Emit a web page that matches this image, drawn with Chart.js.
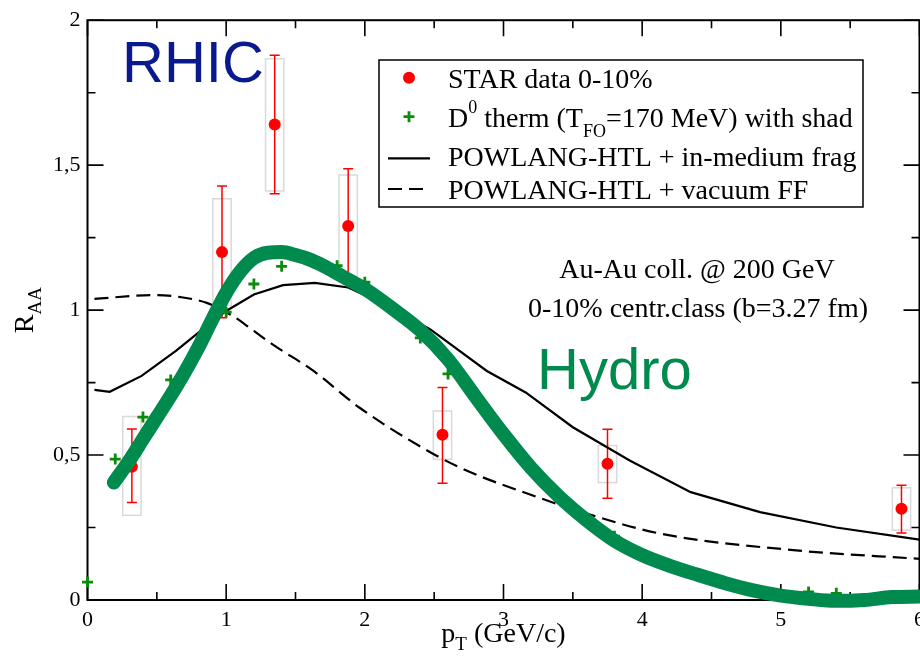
<!DOCTYPE html>
<html>
<head>
<meta charset="utf-8">
<script src="https://cdn.jsdelivr.net/npm/chart.js@4/dist/chart.umd.min.js"></script>
<style>
  html, body { margin: 0; padding: 0; background: #fff; overflow: hidden; }
  #wrap { width: 940px; height: 664px; }
</style>
</head>
<body>
<div id="wrap"><canvas id="raaChart" width="940" height="664"></canvas></div>
<script>
// STAR D0 data 0-10%
const starX  = [0.32, 0.97, 1.35, 1.88, 2.56, 3.75, 5.87];
const starY  = [0.46, 1.20, 1.64, 1.29, 0.57, 0.47, 0.315];
const statLo = [0.336, 0.974, 1.401, 1.09, 0.403, 0.351, 0.231];
const statHi = [0.59, 1.428, 1.879, 1.488, 0.733, 0.589, 0.396];
const sysLo  = [0.292, 1.016, 1.411, 1.112, 0.485, 0.405, 0.241];
const sysHi  = [0.633, 1.384, 1.867, 1.466, 0.652, 0.533, 0.387];

// D0 therm (T_FO = 170 MeV) with shad
const thermX = [0, 0.2, 0.4, 0.6, 0.8, 1.0, 1.2, 1.4, 1.8, 2.0, 2.4, 2.6, 3.2, 3.4, 3.6, 3.8, 5.2, 5.4];
const thermY = [0.062, 0.486, 0.631, 0.759, 0.882, 0.993, 1.09, 1.151, 1.153, 1.096, 0.904, 0.78, 0.447, 0.358, 0.278, 0.22, 0.028, 0.023];

// POWLANG-HTL + in-medium frag
const medX = [0.05, 0.16, 0.39, 0.64, 0.82, 1.0, 1.2, 1.41, 1.64, 1.88, 2.1, 2.47, 2.88, 3.16, 3.5, 3.91, 4.35, 4.85, 5.4, 6.0];
const medY = [0.725, 0.718, 0.773, 0.86, 0.93, 0.997, 1.054, 1.086, 1.094, 1.078, 1.03, 0.934, 0.79, 0.716, 0.596, 0.481, 0.372, 0.303, 0.25, 0.208];

// POWLANG-HTL + vacuum FF
const vacX = [0.05, 0.5, 0.67, 0.86, 1.05, 1.2, 1.34, 1.63, 1.96, 2.37, 2.68, 3.31, 3.6, 4.13, 5.09, 6.0];
const vacY = [1.039, 1.052, 1.045, 1.025, 0.979, 0.928, 0.88, 0.79, 0.664, 0.538, 0.458, 0.344, 0.298, 0.229, 0.172, 0.142];

// Hydro curve
const hydroX = [0.19, 0.3, 0.4, 0.5, 0.6, 0.7, 0.8, 0.9, 1.0, 1.1, 1.2, 1.3, 1.4, 1.5, 1.6, 1.7, 1.8, 1.9, 2.0, 2.2, 2.4, 2.6, 2.8, 3.0, 3.2, 3.4, 3.6, 3.8, 4.0, 4.2, 4.4, 4.6, 4.8, 5.0, 5.2, 5.4, 5.6, 5.8, 6.0];
const hydroY = [0.405, 0.48, 0.555, 0.63, 0.705, 0.785, 0.872, 0.968, 1.06, 1.132, 1.18, 1.198, 1.2, 1.19, 1.175, 1.153, 1.127, 1.1, 1.073, 1.005, 0.93, 0.83, 0.70, 0.572, 0.455, 0.357, 0.275, 0.205, 0.155, 0.118, 0.087, 0.058, 0.033, 0.015, 0.004, -0.003, 0.0, 0.01, 0.012];

const xTicks = [0, 1, 2, 3, 4, 5, 6];
const yTicks = [0, 0.5, 1, 1.5, 2];

const SERIF = '"Liberation Serif", "Times New Roman", serif';
const SANS = '"Liberation Sans", Arial, sans-serif';
const RED = "#ff0000";
const GREEN = "#0a8c0a";
const HYDRO = "#008a4e";

function pts(xs, ys) {
  return xs.map((x, i) => ({ x: x, y: ys[i] }));
}

// draws text pieces with sub/superscripts
function richText(ctx, parts, x, y) {
  parts.forEach(p => {
    ctx.font = p.size + "px " + SERIF;
    ctx.fillText(p.t, x, y + (p.dy || 0));
    x += ctx.measureText(p.t).width;
  });
  return x;
}
function richWidth(ctx, parts) {
  let w = 0;
  parts.forEach(p => { ctx.font = p.size + "px " + SERIF; w += ctx.measureText(p.t).width; });
  return w;
}

// frame, inward ticks, systematic boxes and error bars (under the datasets)
const underlay = {
  id: "underlay",
  beforeDatasetsDraw(chart) {
    const ctx = chart.ctx, a = chart.chartArea;
    const xs = chart.scales.x, ys = chart.scales.y;
    ctx.save();

    // systematic boxes
    ctx.strokeStyle = "#d9d9d9";
    ctx.lineWidth = 1.5;
    starX.forEach((x, i) => {
      const l = xs.getPixelForValue(x - 0.066), r = xs.getPixelForValue(x + 0.066);
      const t = ys.getPixelForValue(sysHi[i]), b = ys.getPixelForValue(sysLo[i]);
      ctx.strokeRect(l, t, r - l, b - t);
    });

    // stat error bars
    ctx.strokeStyle = RED;
    ctx.lineWidth = 1.5;
    starX.forEach((x, i) => {
      const px = xs.getPixelForValue(x);
      const t = ys.getPixelForValue(statHi[i]), b = ys.getPixelForValue(statLo[i]);
      ctx.beginPath();
      ctx.moveTo(px, t); ctx.lineTo(px, b);
      ctx.moveTo(px - 5, t); ctx.lineTo(px + 5, t);
      ctx.moveTo(px - 5, b); ctx.lineTo(px + 5, b);
      ctx.stroke();
    });

    // frame
    ctx.strokeStyle = "#000";
    ctx.lineWidth = 2;
    ctx.strokeRect(a.left, a.top, a.right - a.left, a.bottom - a.top);

    // inward ticks on all sides
    ctx.lineWidth = 1.6;
    ctx.beginPath();
    for (let v = 0; v <= 6.001; v += 0.5) {
      const px = xs.getPixelForValue(v);
      const len = Math.abs(v - Math.round(v)) < 1e-6 ? 16 : 8;
      ctx.moveTo(px, a.bottom); ctx.lineTo(px, a.bottom - len);
      ctx.moveTo(px, a.top); ctx.lineTo(px, a.top + len);
    }
    for (let v = 0; v <= 2.001; v += 0.25) {
      const py = ys.getPixelForValue(v);
      const len = Math.abs(v * 2 - Math.round(v * 2)) < 1e-6 ? 16 : 8;
      ctx.moveTo(a.left, py); ctx.lineTo(a.left + len, py);
      ctx.moveTo(a.right, py); ctx.lineTo(a.right - len, py);
    }
    ctx.stroke();
    ctx.restore();
  }
};

// legend, annotations and axis titles
const overlay = {
  id: "overlay",
  afterDraw(chart) {
    const ctx = chart.ctx, a = chart.chartArea;
    ctx.save();
    ctx.textBaseline = "alphabetic";

    // legend box
    ctx.fillStyle = "#fff";
    ctx.fillRect(379, 60, 484, 147);
    ctx.strokeStyle = "#000";
    ctx.lineWidth = 1.5;
    ctx.strokeRect(379, 60, 484, 147);

    ctx.fillStyle = RED;
    ctx.beginPath(); ctx.arc(409, 77.7, 6, 0, Math.PI * 2); ctx.fill();

    ctx.strokeStyle = GREEN;
    ctx.lineWidth = 2.8;
    ctx.beginPath();
    ctx.moveTo(403.5, 116.7); ctx.lineTo(414.5, 116.7);
    ctx.moveTo(409, 111.2); ctx.lineTo(409, 122.2);
    ctx.stroke();

    ctx.strokeStyle = "#000";
    ctx.lineWidth = 2.2;
    ctx.beginPath(); ctx.moveTo(388, 158.3); ctx.lineTo(430, 158.3); ctx.stroke();
    ctx.setLineDash([14, 7]);
    ctx.beginPath(); ctx.moveTo(388, 189); ctx.lineTo(430, 189); ctx.stroke();
    ctx.setLineDash([]);

    ctx.fillStyle = "#000";
    const lx = 448;
    richText(ctx, [{ t: "STAR data 0-10%", size: 28 }], lx, 87.5);
    richText(ctx, [
      { t: "D", size: 28 }, { t: "0", size: 18, dy: -14 },
      { t: " therm (T", size: 28 }, { t: "FO", size: 18, dy: 10 },
      { t: "=170 MeV) with shad", size: 28 }
    ], lx, 126.5);
    richText(ctx, [{ t: "POWLANG-HTL + in-medium frag", size: 28 }], lx, 166);
    richText(ctx, [{ t: "POWLANG-HTL + vacuum FF", size: 28 }], lx, 198.5);

    // collision info
    ctx.font = "28px " + SERIF;
    ctx.textAlign = "center";
    ctx.fillText("Au-Au coll. @ 200 GeV", 697, 278);
    ctx.fillText("0-10% centr.class (b=3.27 fm)", 698, 317);
    ctx.textAlign = "left";

    // big labels
    ctx.font = "58px " + SANS;
    ctx.fillStyle = "#0a1a8e";
    ctx.fillText("RHIC", 122, 82);
    ctx.fillStyle = HYDRO;
    ctx.fillText("Hydro", 537, 389);

    // x axis title
    ctx.fillStyle = "#000";
    const xt = [{ t: "p", size: 28 }, { t: "T", size: 19, dy: 8 }, { t: " (GeV/c)", size: 28 }];
    const cx = (a.left + a.right) / 2;
    richText(ctx, xt, cx - richWidth(ctx, xt) / 2, 642);

    // y axis title, rotated
    const yt = [{ t: "R", size: 28 }, { t: "AA", size: 19, dy: 8 }];
    ctx.translate(33, (a.top + a.bottom) / 2);
    ctx.rotate(-Math.PI / 2);
    richText(ctx, yt, -richWidth(ctx, yt) / 2, 0);
    ctx.restore();
  }
};

new Chart(document.getElementById("raaChart"), {
  type: "scatter",
  data: {
    datasets: [
      {
        label: "Hydro",
        type: "line",
        data: pts(hydroX, hydroY),
        borderColor: HYDRO,
        borderWidth: 14,
        borderCapStyle: "round",
        borderJoinStyle: "round",
        cubicInterpolationMode: "monotone",
        pointRadius: 0,
        fill: false,
        clip: 12,
        order: 0
      },
      {
        label: "D0 therm (TFO=170 MeV) with shad",
        data: pts(thermX, thermY),
        pointStyle: "cross",
        pointRadius: 5.5,
        borderColor: GREEN,
        borderWidth: 2.8,
        showLine: false,
        clip: 8,
        order: 1
      },
      {
        label: "STAR data 0-10%",
        data: pts(starX, starY),
        pointRadius: 6,
        pointBackgroundColor: RED,
        pointBorderWidth: 0,
        borderColor: RED,
        showLine: false,
        order: 2
      },
      {
        label: "POWLANG-HTL + in-medium frag",
        type: "line",
        data: pts(medX, medY),
        borderColor: "#000",
        borderWidth: 2.2,
        tension: 0,
        pointRadius: 0,
        fill: false,
        order: 3
      },
      {
        label: "POWLANG-HTL + vacuum FF",
        type: "line",
        data: pts(vacX, vacY),
        borderColor: "#000",
        borderWidth: 2.2,
        borderDash: [14, 7],
        cubicInterpolationMode: "monotone",
        pointRadius: 0,
        fill: false,
        order: 4
      }
    ]
  },
  options: {
    responsive: false,
    animation: false,
    devicePixelRatio: 1,
    layout: { padding: { left: 0, right: 20.5, top: 17.7, bottom: 0 } },
    plugins: { legend: { display: false }, tooltip: { enabled: false } },
    scales: {
      x: {
        type: "linear",
        min: 0, max: 6,
        afterBuildTicks: s => { s.ticks = xTicks.map(v => ({ value: v })); },
        afterFit: s => { s.height = 64; },
        ticks: { color: "#000", font: { family: SERIF, size: 22 }, padding: 7, maxRotation: 0 },
        grid: { display: false, drawTicks: false },
        border: { display: false }
      },
      y: {
        min: 0, max: 2,
        afterBuildTicks: s => { s.ticks = yTicks.map(v => ({ value: v })); },
        afterFit: s => { s.width = 87.5; },
        ticks: {
          color: "#000", font: { family: SERIF, size: 22 }, padding: 7,
          callback: v => String(v).replace(".", ",")
        },
        grid: { display: false, drawTicks: false },
        border: { display: false }
      }
    }
  },
  plugins: [underlay, overlay]
});
</script>
</body>
</html>
